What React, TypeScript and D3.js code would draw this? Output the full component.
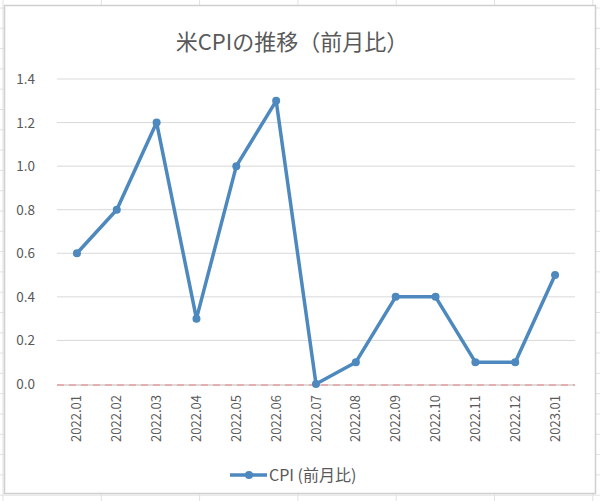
import React from "react";
import * as d3 from "d3";

const categories = ["2022.01","2022.02","2022.03","2022.04","2022.05","2022.06","2022.07","2022.08","2022.09","2022.10","2022.11","2022.12","2023.01"];
const cpiValues = [0.6, 0.8, 1.2, 0.3, 1.0, 1.3, 0.0, 0.1, 0.4, 0.4, 0.1, 0.1, 0.5];
const yTicks = [0, 0.2, 0.4, 0.6, 0.8, 1.0, 1.2, 1.4];
const title = "米CPIの推移（前月比）";
const seriesName = "CPI (前月比)";

const W = 600, H = 501;
const font = "'Noto Sans CJK JP', 'Noto Sans', sans-serif";

export default function App() {
  const x = d3.scaleBand().domain(categories).range([57, 575]);
  const y = d3.scaleLinear().domain([0, 1.4]).range([384, 79]);
  const cx = (c: string) => (x(c) ?? 0) + x.bandwidth() / 2;
  const line = d3.line<number>().x((_, i) => cx(categories[i])).y(d => y(d));
  const colX = d3.range(0, 7).map(i => 3 + i * 98.3);
  const rowY = d3.range(0, 26).map(i => 8 + i * 20.3);
  return (
    <div style={{ position: "fixed", left: 0, top: 0 }}>
      <svg width={W} height={H} style={{ display: "block" }}>
        <rect width={W} height={H} fill="#fff" />
        {colX.map((v, i) => <line key={"c" + i} x1={v} x2={v} y1={0} y2={H} stroke="#e2e2e2" />)}
        {rowY.map((v, i) => <line key={"r" + i} x1={0} x2={W} y1={v} y2={v} stroke="#e2e2e2" />)}
        <rect x={4.5} y={5.5} width={591} height={488} fill="#fff" stroke="#cfcfcf" strokeWidth={1.5} />
        <text x={292} y={50} textAnchor="middle" fontFamily={font} fontSize={22} fill="#595959">{title}</text>
        {yTicks.map(t => (
          <g key={t}>
            {t > 0 && <line x1={57} x2={575} y1={y(t)} y2={y(t)} stroke="#d9d9d9" strokeWidth={1} />}
            <text x={35} y={y(t) + 5} textAnchor="end" fontFamily={font} fontSize={13.5} fill="#595959">{t.toFixed(1)}</text>
          </g>
        ))}
        <line x1={57} x2={575} y1={y(0) + 1} y2={y(0) + 1} stroke="#d0d0d0" strokeWidth={1.5} />
        <line x1={57} x2={575} y1={y(0) + 1} y2={y(0) + 1} stroke="#e8a0a0" strokeWidth={1.5} strokeDasharray="7,5" />
        {categories.map(c => (
          <text key={c} transform={`translate(${cx(c) + 4.5},${395}) rotate(-90)`} textAnchor="end" fontFamily={font} fontSize={13} fill="#595959">{c}</text>
        ))}
        <path d={line(cpiValues) ?? ""} fill="none" stroke="#4d89be" strokeWidth={3.5} strokeLinejoin="round" />
        {cpiValues.map((v, i) => (
          <circle key={i} cx={cx(categories[i])} cy={y(v)} r={4} fill="#4d89be" />
        ))}
        <line x1={230} x2={267} y1={475} y2={475} stroke="#4d89be" strokeWidth={3.5} />
        <circle cx={249} cy={475} r={4} fill="#4d89be" />
        <text x={269} y={481} fontFamily={font} fontSize={16} fill="#595959">{seriesName}</text>
      </svg>
    </div>
  );
}
